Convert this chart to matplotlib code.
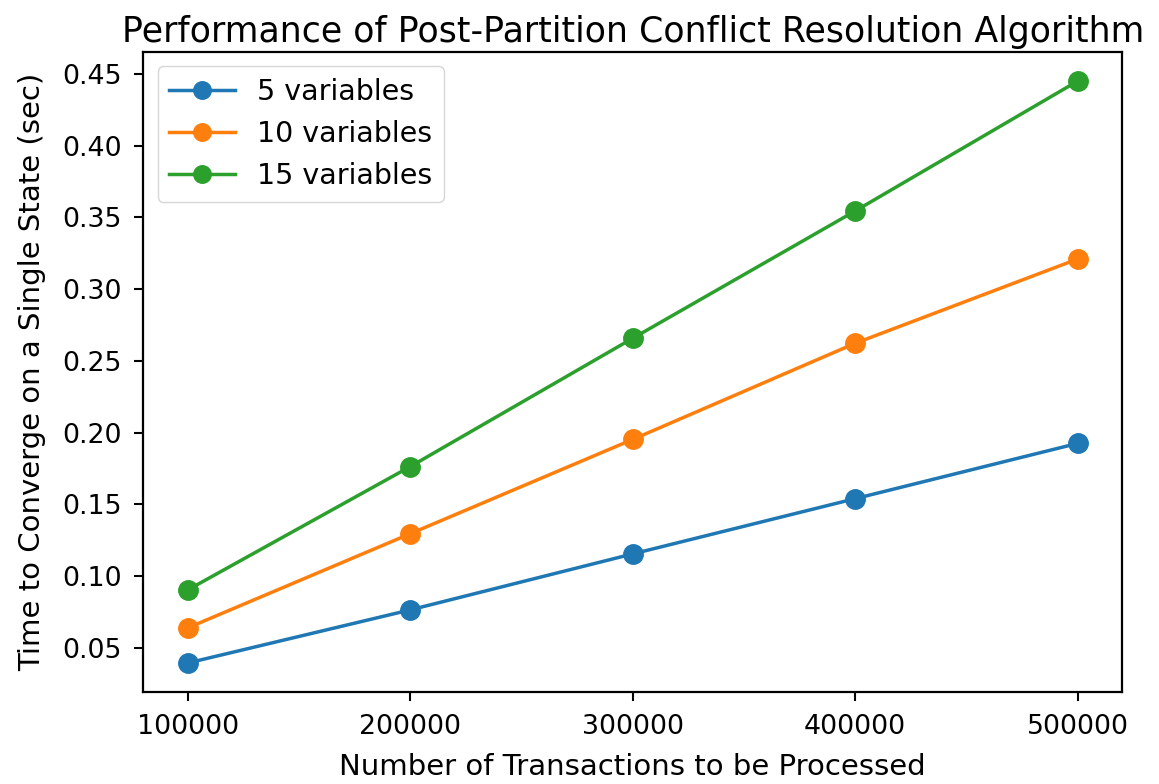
import matplotlib
matplotlib.use("Agg")
import matplotlib.pyplot as plt

transactions = [100000, 200000, 300000, 400000, 500000]
vars5 = [0.0395, 0.0765, 0.1155, 0.154, 0.1925]
vars10 = [0.064, 0.1296, 0.1953, 0.2623, 0.321]
vars15 = [0.0905, 0.1764, 0.2658, 0.3545, 0.445]
labels = ["5 variables", "10 variables", "15 variables"]

plt.rcParams['font.family'] = ['DejaVu Sans']
plt.rcParams['font.size'] = 19

fig = plt.figure(figsize=(11.59, 7.84), dpi=100)
ax = fig.add_axes([0.1238, 0.1173, 0.8443, 0.8163])
for ys, lab in zip([vars5, vars10, vars15], labels):
    ax.plot(transactions, ys, marker='o', linewidth=2.5, markersize=14, label=lab)

ax.set_xticks(transactions)
ax.set_xticklabels([str(t) for t in transactions])
ax.tick_params(axis='both', labelsize=19.3, width=1.5, length=6.5, pad=9.4)
for s in ax.spines.values():
    s.set_linewidth(1.6)
ax.set_title("Performance of Post-Partition Conflict Resolution Algorithm", fontsize=25, pad=7)
ax.set_xlabel("Number of Transactions to be Processed", fontsize=21, labelpad=9)
ax.set_ylabel("Time to Converge on a Single State (sec)", fontsize=21, labelpad=11)
ax.legend(loc='upper left', fontsize=20.5, handlelength=2.3, markerscale=0.9)

fig.savefig("out.png", dpi=100)
